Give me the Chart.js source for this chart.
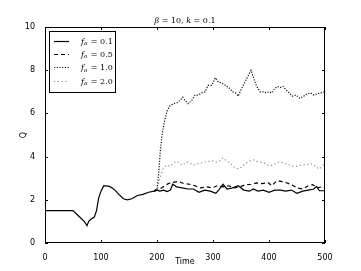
<!DOCTYPE html>
<html>
<head>
<meta charset="utf-8">
<script src="https://cdn.jsdelivr.net/npm/chart.js@4.4.0/dist/chart.umd.min.js"></script>
<style>
  html, body { margin: 0; padding: 0; background: #fff; }
  #wrap { width: 361px; height: 271px; }
</style>
</head>
<body>
<div id="wrap"><canvas id="chart" width="361" height="271"></canvas></div>
<script>
// time / Q values
const t01 = [0, 50, 60, 70, 75, 78, 82, 88, 92, 96, 100, 105, 115, 120, 125, 130, 140, 147, 155, 165, 175, 185, 195, 200, 205, 212, 218, 224, 228, 235, 245, 255, 265, 275, 285, 295, 305, 310, 318, 325, 335, 345, 355, 365, 372, 380, 390, 400, 410, 420, 430, 440, 450, 460, 470, 480, 485, 490, 500];
const q01 = [1.5, 1.5, 1.25, 1.0, 0.8, 1.0, 1.1, 1.2, 1.5, 2.1, 2.4, 2.65, 2.62, 2.55, 2.45, 2.3, 2.05, 2.0, 2.05, 2.2, 2.25, 2.35, 2.4, 2.45, 2.4, 2.45, 2.38, 2.45, 2.72, 2.6, 2.55, 2.5, 2.5, 2.35, 2.45, 2.4, 2.3, 2.45, 2.72, 2.5, 2.55, 2.65, 2.45, 2.4, 2.5, 2.4, 2.45, 2.35, 2.45, 2.45, 2.4, 2.45, 2.3, 2.4, 2.45, 2.5, 2.62, 2.42, 2.42];

const t05 = [195, 200, 205, 212, 220, 228, 238, 248, 258, 268, 278, 288, 298, 308, 318, 328, 338, 348, 358, 368, 378, 388, 398, 405, 414, 422, 430, 440, 450, 460, 470, 478, 486, 494, 500];
const q05 = [2.4, 2.45, 2.5, 2.62, 2.75, 2.8, 2.85, 2.75, 2.72, 2.65, 2.55, 2.6, 2.55, 2.65, 2.6, 2.65, 2.55, 2.6, 2.7, 2.72, 2.78, 2.75, 2.8, 2.65, 2.88, 2.85, 2.8, 2.7, 2.55, 2.5, 2.65, 2.7, 2.55, 2.6, 2.55];

const t10 = [196, 200, 203, 206, 209, 213, 218, 223, 230, 236, 241, 246, 250, 256, 262, 268, 274, 280, 286, 291, 298, 304, 310, 316, 322, 328, 335, 340, 345, 350, 356, 362, 368, 373, 378, 384, 390, 395, 400, 405, 410, 415, 420, 425, 430, 436, 442, 448, 455, 462, 468, 474, 480, 486, 492, 500];
const q10 = [2.45, 2.5, 3.2, 4.3, 5.0, 5.6, 6.1, 6.35, 6.45, 6.5, 6.6, 6.75, 6.6, 6.45, 6.6, 6.85, 6.85, 6.95, 7.0, 7.3, 7.3, 7.65, 7.45, 7.4, 7.3, 7.2, 7.0, 6.95, 6.8, 7.1, 7.4, 7.7, 8.0, 7.6, 7.25, 7.0, 7.0, 6.95, 7.0, 6.95, 7.15, 7.25, 7.2, 7.25, 7.1, 6.95, 6.8, 6.85, 6.7, 6.8, 6.9, 6.95, 6.85, 6.9, 6.95, 7.0];

const t20 = [196, 200, 204, 208, 212, 217, 223, 229, 235, 240, 245, 253, 259, 265, 271, 277, 283, 289, 295, 300, 306, 312, 318, 324, 330, 336, 342, 348, 354, 360, 366, 372, 378, 384, 390, 396, 402, 408, 414, 420, 426, 432, 438, 444, 450, 456, 462, 468, 474, 480, 486, 490, 495, 500];
const q20 = [2.45, 2.5, 2.9, 3.2, 3.5, 3.6, 3.55, 3.7, 3.78, 3.7, 3.6, 3.75, 3.7, 3.6, 3.65, 3.7, 3.72, 3.78, 3.78, 3.8, 3.75, 3.8, 3.95, 3.8, 3.7, 3.55, 3.45, 3.45, 3.6, 3.7, 3.8, 3.85, 3.78, 3.75, 3.72, 3.62, 3.58, 3.62, 3.72, 3.75, 3.7, 3.65, 3.6, 3.55, 3.55, 3.6, 3.62, 3.62, 3.68, 3.6, 3.5, 3.42, 3.55, 3.7];

const legendVals = ['0.1', '0.5', '1.0', '2.0'];
const xTicks = [0, 100, 200, 300, 400, 500];
const yTicks = [0, 2, 4, 6, 8, 10];

const sansFont = 'DejaVu Sans';
const serifFont = 'DejaVu Serif';

function pts(ts, qs) {
  return ts.map((t, i) => ({ x: t, y: qs[i] }));
}

const series = [
  { d: pts(t01, q01), color: '#000', dash: [], w: 1.2 },
  { d: pts(t05, q05), color: '#000', dash: [4, 3], w: 1.2 },
  { d: pts(t10, q10), color: '#111', dash: [1.2, 1.5], w: 1.2 },
  { d: pts(t20, q20), color: '#8c8c8c', dash: [1.2, 2.6], w: 1.2 }
];

// frame, inward ticks, title, axis names, legend
const decorPlugin = {
  id: 'decor',
  afterDraw(chart) {
    const ctx = chart.ctx;
    const a = chart.chartArea;
    const xs = chart.scales.x;
    const ys = chart.scales.y;
    ctx.save();
    ctx.strokeStyle = '#000';
    ctx.lineWidth = 1;
    ctx.strokeRect(a.left + 0.5, a.top + 0.5, a.right - a.left - 1, a.bottom - a.top - 1);
    ctx.beginPath();
    xTicks.forEach((v) => {
      const px = Math.round(xs.getPixelForValue(v)) + 0.5;
      ctx.moveTo(px, a.bottom); ctx.lineTo(px, a.bottom - 3);
      ctx.moveTo(px, a.top); ctx.lineTo(px, a.top + 3);
    });
    yTicks.forEach((v) => {
      const py = Math.round(ys.getPixelForValue(v)) + 0.5;
      ctx.moveTo(a.left, py); ctx.lineTo(a.left + 3, py);
      ctx.moveTo(a.right, py); ctx.lineTo(a.right - 3, py);
    });
    ctx.stroke();

    // title
    ctx.fillStyle = '#000';
    ctx.textBaseline = 'alphabetic';
    ctx.textAlign = 'left';
    const parts = [
      ['italic 8px ' + serifFont, 'β'],
      ['8px ' + serifFont, ' = 10, '],
      ['italic 8px ' + serifFont, 'k'],
      ['8px ' + serifFont, ' = 0.1']
    ];
    let w = 0;
    parts.forEach((p) => { ctx.font = p[0]; w += ctx.measureText(p[1]).width; });
    let tx = (a.left + a.right) / 2 - w / 2;
    parts.forEach((p) => { ctx.font = p[0]; ctx.fillText(p[1], tx, 23); tx += ctx.measureText(p[1]).width; });

    // axis names
    ctx.font = '8px ' + sansFont;
    ctx.textAlign = 'center';
    ctx.fillText('Time', (a.left + a.right) / 2, 264);
    ctx.save();
    ctx.translate(26, (a.top + a.bottom) / 2);
    ctx.rotate(-Math.PI / 2);
    ctx.fillText('Q', 0, 0);
    ctx.restore();

    // legend box
    ctx.fillStyle = '#fff';
    ctx.fillRect(49.5, 31.5, 66, 61);
    ctx.strokeStyle = '#000';
    ctx.strokeRect(49.5, 31.5, 66, 61);
    legendVals.forEach((v, i) => {
      const s = series[i];
      const y = 40.5 + i * 13.4;
      ctx.strokeStyle = s.color;
      ctx.lineWidth = s.w;
      ctx.setLineDash(s.dash);
      ctx.beginPath();
      ctx.moveTo(54, Math.round(y) + 0.5);
      ctx.lineTo(69, Math.round(y) + 0.5);
      ctx.stroke();
      ctx.setLineDash([]);
      ctx.lineWidth = 1;
      ctx.fillStyle = '#000';
      ctx.textAlign = 'left';
      let lx = 81;
      ctx.font = 'italic 8px ' + serifFont;
      ctx.fillText('f', lx, y + 3);
      lx += ctx.measureText('f').width;
      ctx.font = 'italic 5.5px ' + serifFont;
      ctx.fillText('o', lx, y + 4.5);
      lx += ctx.measureText('o').width + 1;
      ctx.font = '8px ' + serifFont;
      ctx.fillText(' = ' + v, lx, y + 3);
    });
    ctx.restore();
  }
};

new Chart(document.getElementById('chart'), {
  type: 'line',
  data: {
    datasets: series.map((s, i) => ({
      label: 'f_o = ' + legendVals[i],
      data: s.d,
      borderColor: s.color,
      borderDash: s.dash,
      borderWidth: s.w,
      pointRadius: 0,
      tension: 0,
      fill: false
    }))
  },
  options: {
    responsive: false,
    animation: false,
    devicePixelRatio: 1,
    layout: { padding: { left: 0, right: 36, top: 27, bottom: 0 } },
    plugins: {
      legend: { display: false },
      title: { display: false },
      tooltip: { enabled: false }
    },
    scales: {
      x: {
        type: 'linear',
        min: 0,
        max: 500,
        afterFit(scale) { scale.height = 28; },
        afterBuildTicks(scale) { scale.ticks = xTicks.map((v) => ({ value: v })); },
        grid: { display: false },
        border: { display: false },
        ticks: { color: '#000', padding: 2, maxRotation: 0, font: { family: sansFont, size: 8 } }
      },
      y: {
        type: 'linear',
        min: 0,
        max: 10,
        afterFit(scale) { scale.width = 45; },
        afterBuildTicks(scale) { scale.ticks = yTicks.map((v) => ({ value: v })); },
        grid: { display: false },
        border: { display: false },
        ticks: { color: '#000', padding: 2, font: { family: sansFont, size: 8 } }
      }
    }
  },
  plugins: [decorPlugin]
});
</script>
</body>
</html>
